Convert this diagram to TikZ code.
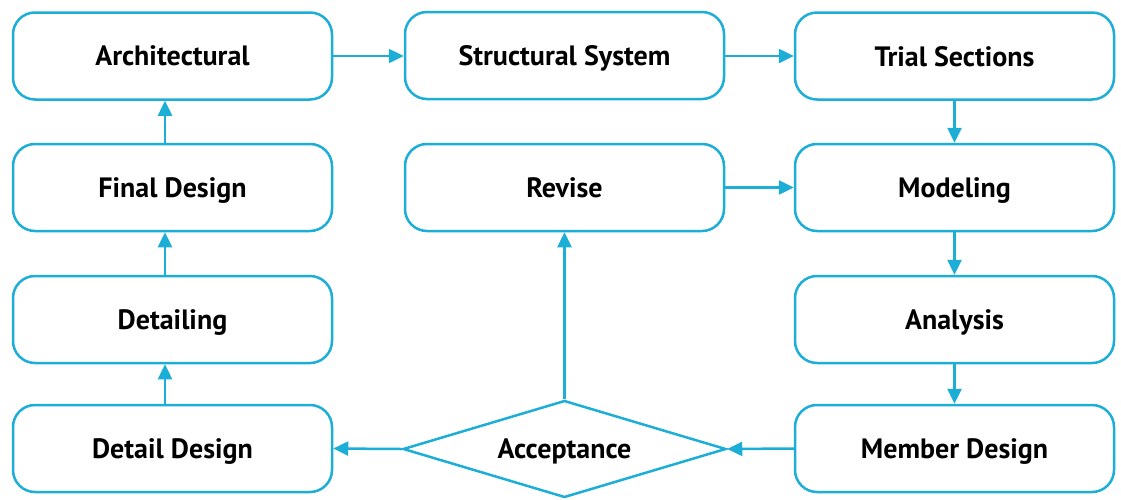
\documentclass[tikz,border=0pt]{standalone}
\usepackage{fontspec}
\setmainfont{PT Sans}
\usetikzlibrary{shapes.geometric,arrows.meta}
\definecolor{flow}{HTML}{1DAED8}
\tikzset{
  box/.style={draw=flow, line width=2.5pt, rounded corners=22pt, minimum width=319pt, minimum height=87pt, inner sep=0pt, font=\fontsize{28}{32}\selectfont\bfseries, text=black, text depth=0pt},
  dia/.style={draw=flow, line width=2.5pt, diamond, aspect=3.33, minimum width=323pt, minimum height=97pt, inner sep=0pt, font=\fontsize{28}{32}\selectfont\bfseries, text=black},
  conn/.style={draw=flow, line width=2.5pt, -{Triangle[length=15pt,width=14pt]}}
}
\begin{document}
\begin{tikzpicture}[x=1pt,y=-1pt]
\useasboundingbox (0,0) rectangle (1121,499);
\node[box] (arch) at (172.5,56) {Architectural};
\node[box] (final) at (172.5,187.5) {Final Design};
\node[box] (detailing) at (172.5,319.5) {Detailing};
\node[box] (ddesign) at (172.5,448.5) {Detail Design};
\node[box] (struct) at (564.5,55.5) {Structural System};
\node[box] (revise) at (564.5,187.5) {Revise};
\node[box] (trial) at (954.5,56) {Trial Sections};
\node[box] (model) at (954.5,187.5) {Modeling};
\node[box] (anal) at (954.5,319.5) {Analysis};
\node[box] (member) at (954.5,448.5) {Member Design};
\node[dia] (acc) at (564.5,449) {};
\node[font=\fontsize{28}{32}\selectfont\bfseries, text depth=0pt] (acctext) at (acc.center) {Acceptance};
\draw[conn] (arch.east) -- (struct.west |- arch.east);
\draw[conn] (struct.east |- trial.west) -- (trial.west);
\draw[conn] (trial.south) -- (model.north);
\draw[conn] (revise.east) -- (model.west);
\draw[conn] (model.south) -- (anal.north);
\draw[conn] (anal.south) -- (member.north);
\draw[conn] (member.west) -- (acc.east);
\draw[conn] (acc.west) -- (ddesign.east);
\draw[conn] (acc.north) -- (revise.south);
\draw[conn] ([xshift=-7.5pt]ddesign.north) -- ([xshift=-7.5pt]detailing.south);
\draw[conn] ([xshift=-7.5pt]detailing.north) -- ([xshift=-7.5pt]final.south);
\draw[conn] ([xshift=-7.5pt]final.north) -- ([xshift=-7.5pt]arch.south);
\end{tikzpicture}
\end{document}
